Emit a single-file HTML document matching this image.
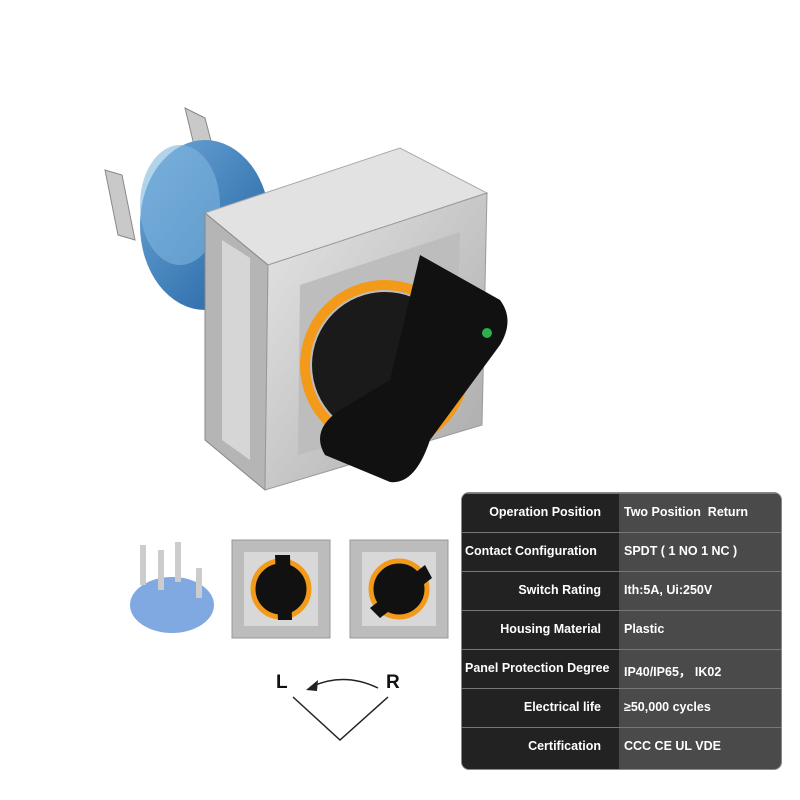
<!DOCTYPE html>
<html><head><style>
body{margin:0;width:800px;height:800px;background:#fff;overflow:hidden;font-family:"Liberation Sans",sans-serif}
.t{position:absolute;left:461px;top:492px;width:319px;height:276px;border-radius:8px;overflow:hidden;background:#4a4a4a;border:1px solid #888}
.l{position:absolute;left:0;top:0;width:157px;height:100%;background:#222}
.r{position:absolute;left:0;width:100%;height:39px;border-top:1px solid #777;color:#fff;font-weight:bold;font-size:12.5px}
.r:first-of-type{border-top:none}
.a{position:absolute;right:180px;top:11px;white-space:nowrap}
.b{position:absolute;left:162px;top:11px;white-space:nowrap}
</style></head><body>
<svg width="800" height="800" style="position:absolute;left:0;top:0">
<defs>
<linearGradient id="bl" x1="0" y1="0" x2="1" y2="1"><stop offset="0" stop-color="#6fa8d8"/><stop offset="1" stop-color="#1d5fa0"/></linearGradient>
<linearGradient id="mt" x1="0" y1="0" x2="1" y2="1"><stop offset="0" stop-color="#e6e6e6"/><stop offset="1" stop-color="#a9a9a9"/></linearGradient>
</defs>
<polygon points="185,108 205,118 220,175 200,170" fill="#c9c9c9" stroke="#888"/>
<polygon points="105,170 122,175 135,240 118,235" fill="#c9c9c9" stroke="#888"/>
<ellipse cx="205" cy="225" rx="65" ry="85" fill="url(#bl)"/>
<ellipse cx="180" cy="205" rx="40" ry="60" fill="#7fb5e0" opacity=".6"/>
<polygon points="205,213 400,148 487,193 268,265" fill="#e2e2e2" stroke="#aaa"/>
<polygon points="205,213 268,265 265,490 205,440" fill="#b5b5b5" stroke="#888"/>
<polygon points="222,240 250,258 250,460 222,440" fill="#d6d6d6"/>
<polygon points="268,265 487,193 482,425 265,490" fill="url(#mt)" stroke="#999"/>
<polygon points="300,285 460,232 455,410 298,455" fill="#bdbdbd"/>
<circle cx="385" cy="365" r="80" fill="none" stroke="#f39a1a" stroke-width="10"/>
<circle cx="385" cy="365" r="73" fill="#1a1a1a"/>
<path d="M420,255 L500,300 Q515,320 500,345 L430,440 Q415,485 390,482 L325,455 Q310,430 340,410 L390,380 Z" fill="#111"/>
<circle cx="487" cy="333" r="5" fill="#2bb04a"/>
<ellipse cx="172" cy="605" rx="42" ry="28" fill="#7fa9e0"/>
<rect x="140" y="545" width="6" height="40" fill="#ccc"/><rect x="158" y="550" width="6" height="40" fill="#ccc"/><rect x="175" y="542" width="6" height="40" fill="#ccc"/><rect x="196" y="568" width="6" height="30" fill="#ccc"/>
<rect x="232" y="540" width="98" height="98" fill="#bcbcbc" stroke="#999"/>
<rect x="244" y="552" width="74" height="74" fill="#d8d8d8"/>
<circle cx="281" cy="589" r="28" fill="#111" stroke="#f39a1a" stroke-width="5"/>
<path d="M275,555 L290,555 L292,620 L278,620 Z" fill="#111"/>
<rect x="350" y="540" width="98" height="98" fill="#bcbcbc" stroke="#999"/>
<rect x="362" y="552" width="74" height="74" fill="#d8d8d8"/>
<circle cx="399" cy="589" r="28" fill="#111" stroke="#f39a1a" stroke-width="5"/>
<path d="M425,565 L432,578 L380,618 L370,608 Z" fill="#111"/>
<polyline points="293,697 340,740 388,697" fill="none" stroke="#222" stroke-width="1.5"/>
<path d="M378,688 Q345,672 313,686" fill="none" stroke="#222" stroke-width="1.5"/>
<polygon points="306,690 318,680 317,691" fill="#222"/>
<text x="276" y="688" font-size="19" font-family="Liberation Sans" font-weight="bold" fill="#111">L</text>
<text x="386" y="688" font-size="19" font-family="Liberation Sans" font-weight="bold" fill="#111">R</text>
</svg>
<div class="t"><div class="l"></div>
<div class="r" style="top:0"><span class="a">Operation Position</span><span class="b">Two Position&nbsp; Return</span></div>
<div class="r" style="top:39px"><span class="a" style="right:auto;left:3px">Contact Configuration</span><span class="b">SPDT ( 1 NO 1 NC )</span></div>
<div class="r" style="top:78px"><span class="a">Switch Rating</span><span class="b">Ith:5A, Ui:250V</span></div>
<div class="r" style="top:117px"><span class="a">Housing Material</span><span class="b">Plastic</span></div>
<div class="r" style="top:156px"><span class="a" style="right:auto;left:3px">Panel Protection Degree</span><span class="b">IP40/IP65，&nbsp;IK02</span></div>
<div class="r" style="top:195px"><span class="a">Electrical life</span><span class="b">≥50,000 cycles</span></div>
<div class="r" style="top:234px"><span class="a">Certification</span><span class="b">CCC CE UL VDE</span></div>
</div>
</body></html>
